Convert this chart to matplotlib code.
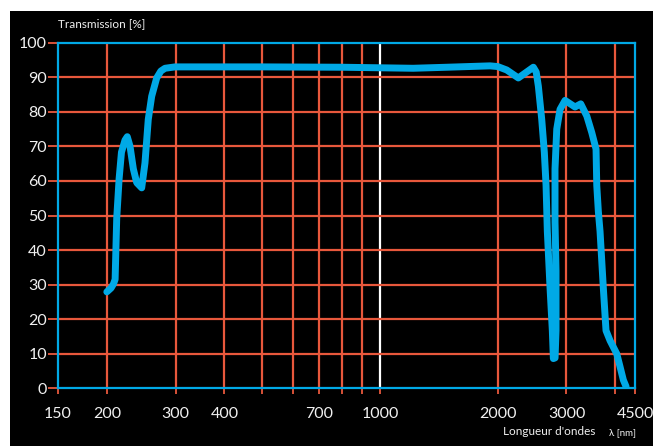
import numpy as np
import matplotlib.pyplot as plt
from matplotlib.patches import Rectangle

# données (longueur d'onde en nm, transmission en %)
wavelength = [200, 205, 208, 210, 212, 215, 218, 222.6, 225.6, 229.3, 233.8, 238.5,
              245.6, 250.4, 255.3, 260.5, 268.3, 275, 281.8, 299, 500, 800, 1215,
              1484, 1912, 2000, 2110, 2259, 2468, 2510, 2542, 2593, 2633, 2660, 2680,
              2723, 2760, 2777, 2805, 2821, 2821, 2804, 2804, 2833, 2888, 2975, 3155,
              3263, 3381, 3482, 3571, 3586, 3620, 3656, 3685, 3727, 3787, 3878, 4034,
              4114, 4194, 4262]
transmission = [27.9, 29.0, 30.2, 31.5, 49.2, 60.6, 68.3, 71.8, 72.8, 70.0, 63.5, 59.5,
                58.0, 65.2, 77.8, 84.5, 89.8, 91.8, 92.6, 93.0, 93.0, 92.9, 92.6,
                92.9, 93.3, 93.1, 92.1, 89.8, 92.9, 91.5, 87.4, 77.8, 68.3, 58.7, 45.4,
                29.1, 16.7, 8.6, 8.8, 16.7, 33.9, 48.2, 63.5, 75.0, 80.7, 83.3, 81.4,
                82.3, 78.8, 74.0, 69.2, 58.7, 51.1, 45.4, 38.7, 29.1, 16.7, 13.8, 10.0,
                6.2, 2.4, 0.5]

x_ticks = [150, 200, 300, 400, 500, 600, 700, 800, 900, 1000, 2000, 3000, 4000, 4500]
x_labels = ['150', '200', '300', '400', '', '', '700', '', '', '1000', '2000', '3000', '', '4500']
x_grid = [200, 300, 400, 500, 600, 700, 800, 900, 2000, 3000, 4000]
y_ticks = list(range(0, 101, 10))

BLUE = '#00a9e6'
ORANGE = '#e8583c'
TXT = '#f0f0f0'

plt.rcParams['font.family'] = ['Lato', 'DejaVu Sans']

fig = plt.figure(figsize=(6.53, 4.46), dpi=100, facecolor='white')
# fond noir, avec une petite marge blanche en haut et à gauche
fig.patches.append(Rectangle((10 / 653, 0), 1, 1 - 11 / 446, transform=fig.transFigure,
                             facecolor='black', edgecolor='none', zorder=-10))

ax = fig.add_axes([58 / 653, 1 - 388.3 / 446, (635.3 - 58) / 653, (388.3 - 42.7) / 446])
ax.set_facecolor('black')
ax.set_xscale('log')
ax.set_xlim(150, 4500)
ax.set_ylim(0, 100)

for v in x_grid:
    ax.axvline(v, color=ORANGE, lw=1.6, zorder=1)
ax.axvline(1000, color='white', lw=1.6, zorder=1)
for v in y_ticks[1:-1]:
    ax.axhline(v, color=ORANGE, lw=1.6, zorder=1)

ax.plot(wavelength, transmission, color=BLUE, lw=5,
        solid_capstyle='round', solid_joinstyle='round', zorder=3)

ax.set_xticks(x_ticks)
ax.set_xticklabels(x_labels)
ax.xaxis.set_minor_locator(plt.NullLocator())
ax.set_yticks(y_ticks)
ax.set_yticklabels([str(v) for v in y_ticks])
ax.tick_params(axis='x', colors=ORANGE, length=4.5, width=1.3, pad=9,
               labelcolor=TXT, labelsize=11.5)
ax.tick_params(axis='y', colors=ORANGE, length=7, width=1.3, pad=1,
               labelcolor=TXT, labelsize=11.5)

for s in ax.spines.values():
    s.set_color(BLUE)
    s.set_linewidth(1.6)
    s.set_zorder(4)

fig.text(58 / 653, 1 - 27.5 / 446, 'Transmission [%]', color=TXT, fontsize=8.5,
         va='baseline', ha='left')
fig.text(503 / 653, 1 - 435 / 446, "Longueur d'ondes", color=TXT, fontsize=8.5,
         va='baseline', ha='left')
fig.text(636 / 653, 1 - 435 / 446, 'λ [nm]', color=TXT, fontsize=7,
         va='baseline', ha='right')

fig.savefig('out.png', dpi=100, facecolor=fig.get_facecolor())
